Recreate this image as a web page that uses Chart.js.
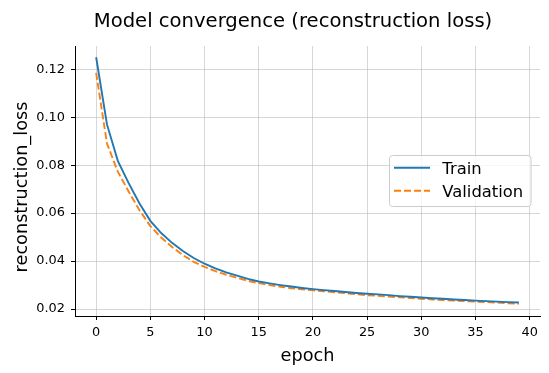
<!DOCTYPE html>
<html>
<head>
<meta charset="utf-8">
<script src="https://cdn.jsdelivr.net/npm/chart.js@4.4.1/dist/chart.umd.min.js"></script>
<style>
  html, body { margin: 0; padding: 0; background: #fff; }
  #wrap { width: 549px; height: 373px; }
</style>
</head>
<body>
<div id="wrap"><canvas id="chart" width="549" height="373"></canvas></div>
<script>
// Dados
const epochs = [0, 1, 2, 3, 4, 5, 6, 7, 8, 9,
  10, 11, 12, 13, 14, 15, 16, 17, 18, 19,
  20, 21, 22, 23, 24, 25, 26, 27, 28, 29,
  30, 31, 32, 33, 34, 35, 36, 37, 38, 39];

const trainLoss = [0.1250, 0.0970, 0.0818, 0.0725, 0.0640, 0.0568, 0.0517, 0.0476, 0.0442, 0.0413,
  0.0389, 0.0370, 0.0353, 0.0339, 0.0326, 0.0315, 0.0307, 0.0300, 0.0294, 0.0288,
  0.0283, 0.0279, 0.0275, 0.0271, 0.0267, 0.0264, 0.0261, 0.0258, 0.0254, 0.0251,
  0.0248, 0.0245, 0.0243, 0.0240, 0.0238, 0.0235, 0.0233, 0.0231, 0.0229, 0.0227];

const valLoss = [0.1185, 0.0890, 0.0773, 0.0690, 0.0612, 0.0546, 0.0498, 0.0459, 0.0425, 0.0397,
  0.0376, 0.0358, 0.0343, 0.0330, 0.0318, 0.0308, 0.0300, 0.0293, 0.0287, 0.0282,
  0.0278, 0.0274, 0.0270, 0.0266, 0.0262, 0.0258, 0.0255, 0.0252, 0.0249, 0.0246,
  0.0243, 0.0240, 0.0238, 0.0235, 0.0233, 0.0231, 0.0229, 0.0227, 0.0224, 0.0222];

const xTicks = [0, 5, 10, 15, 20, 25, 30, 35, 40];
const yTicks = [0.02, 0.04, 0.06, 0.08, 0.10, 0.12];

const titleText = 'Model convergence (reconstruction loss)';
const xLabel = 'epoch';
const yLabel = 'reconstruction_loss';

const FONT = "'DejaVu Sans', sans-serif";
const gridColor = 'rgba(176,176,176,0.5)';

// Título, rótulos dos eixos e legenda desenhados à mão
const overlay = {
  id: 'overlay',
  afterDraw(chart) {
    const ctx = chart.ctx;
    const area = chart.chartArea;
    ctx.save();
    ctx.fillStyle = '#000';
    ctx.textBaseline = 'alphabetic';

    ctx.font = `19.6px ${FONT}`;
    ctx.textAlign = 'center';
    ctx.fillText(titleText, 293, 26.5);

    ctx.font = `17.7px ${FONT}`;
    ctx.fillText(xLabel, (area.left + area.right) / 2, 361);

    ctx.save();
    ctx.translate(27, 187);
    ctx.rotate(-Math.PI / 2);
    ctx.fillText(yLabel, 0, 0);
    ctx.restore();

    // legenda
    ctx.beginPath();
    ctx.roundRect(389.5, 155.5, 141.5, 51, 3);
    ctx.fillStyle = 'rgba(255,255,255,0.8)';
    ctx.fill();
    ctx.strokeStyle = '#cccccc';
    ctx.lineWidth = 1;
    ctx.stroke();

    ctx.font = `16.4px ${FONT}`;
    ctx.textAlign = 'left';
    chart.data.datasets.forEach((ds, i) => {
      const y = 167.7 + i * 23;
      ctx.beginPath();
      ctx.setLineDash(ds.borderDash || []);
      ctx.strokeStyle = ds.borderColor;
      ctx.lineWidth = ds.borderWidth;
      ctx.moveTo(394, y);
      ctx.lineTo(430, y);
      ctx.stroke();
      ctx.setLineDash([]);
      ctx.fillStyle = '#000';
      ctx.fillText(ds.label, 442.3, y + 6.6);
    });
    ctx.restore();
  }
};

new Chart(document.getElementById('chart'), {
  type: 'line',
  data: {
    datasets: [
      {
        label: 'Train',
        data: epochs.map((e, i) => ({ x: e, y: trainLoss[i] })),
        borderColor: '#1f77b4',
        borderWidth: 1.9,
        pointRadius: 0,
        tension: 0,
        fill: false
      },
      {
        label: 'Validation',
        data: epochs.map((e, i) => ({ x: e, y: valLoss[i] })),
        borderColor: '#ff7f0e',
        borderWidth: 1.9,
        borderDash: [7, 3],
        pointRadius: 0,
        tension: 0,
        fill: false
      }
    ]
  },
  options: {
    responsive: false,
    devicePixelRatio: 1,
    animation: false,
    layout: { padding: { left: 0, right: 9, top: 46, bottom: 0 } },
    plugins: {
      legend: { display: false },
      title: { display: false },
      tooltip: { enabled: false }
    },
    scales: {
      x: {
        type: 'linear',
        min: -1.95,
        max: 40.95,
        afterBuildTicks: s => { s.ticks = xTicks.map(v => ({ value: v })); },
        afterFit: s => { s.height = 57; },
        grid: { color: gridColor, lineWidth: 1, tickColor: '#000', tickLength: 4 },
        border: { display: true, color: '#000', width: 1 },
        ticks: {
          color: '#000',
          font: { family: FONT, size: 12.9 },
          padding: 5,
          maxRotation: 0,
          autoSkip: false,
          callback: v => String(v)
        }
      },
      y: {
        type: 'linear',
        min: 0.0171,
        max: 0.1297,
        afterBuildTicks: s => { s.ticks = yTicks.map(v => ({ value: v })); },
        afterFit: s => { s.width = 75; },
        grid: { color: gridColor, lineWidth: 1, tickColor: '#000', tickLength: 4 },
        border: { display: true, color: '#000', width: 1 },
        ticks: {
          color: '#000',
          font: { family: FONT, size: 12.9 },
          padding: 6,
          autoSkip: false,
          callback: v => v.toFixed(2)
        }
      }
    }
  },
  plugins: [overlay]
});
</script>
</body>
</html>
